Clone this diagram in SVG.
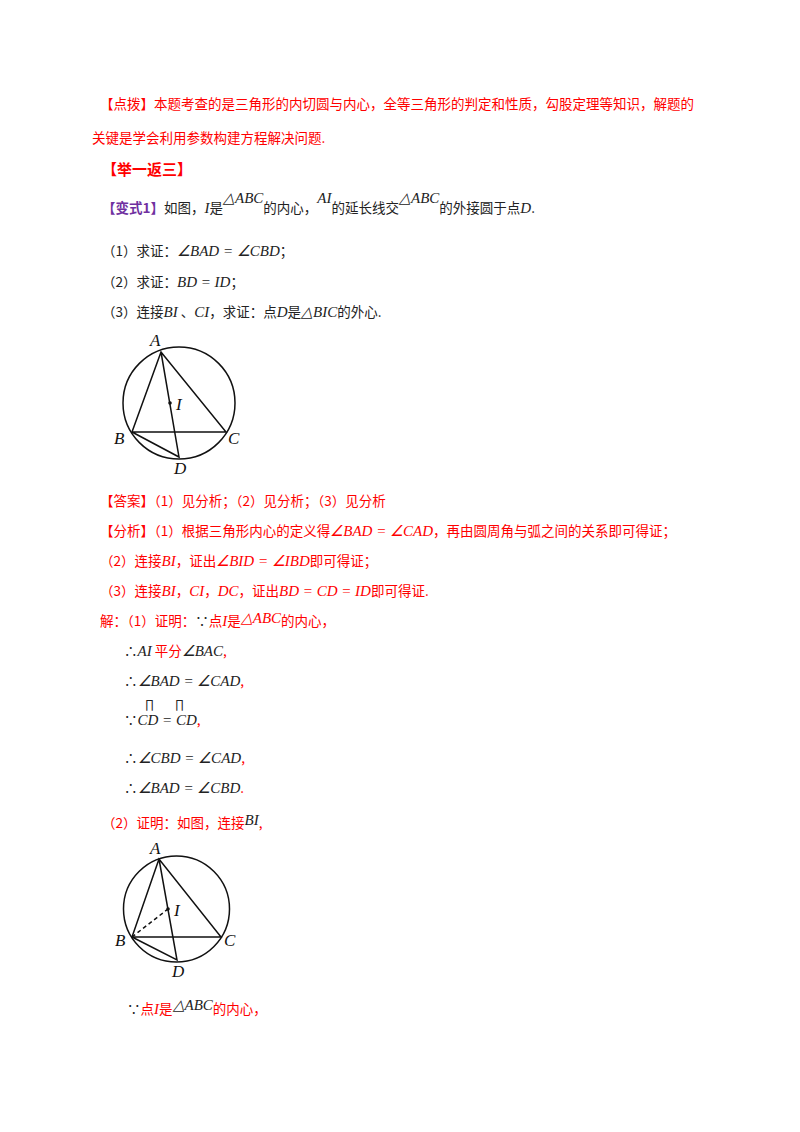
<svg xmlns="http://www.w3.org/2000/svg" width="800" height="1132" viewBox="0 0 800 1132">
<style>
text{font-family:"Noto Sans CJK SC",sans-serif;font-size:13.5px;fill:#222}
.r{fill:#ff0000}
.p{fill:#7030a0;font-weight:bold}
.m{font-family:"Liberation Serif",serif;font-style:italic;font-size:15px}
.mk{fill:#222}
.lbl{font-family:"Liberation Serif",serif;font-style:italic;font-size:17px;fill:#111}
.g{fill:none;stroke:#111;stroke-width:1.5}
</style>
<rect width="800" height="1132" fill="#fff"/>
<text x="100" y="109" class="r">【点拨】本题考查的是三角形的内切圆与内心，全等三角形的判定和性质，勾股定理等知识，解题的</text>
<text x="92" y="143" class="r">关键是学会利用参数构建方程解决问题.</text>
<text x="102" y="175" class="r" style="font-weight:bold;font-size:15px">【举一返三】</text>
<text x="102" y="213"><tspan class="p">【变式1】</tspan>如图，<tspan class="m">I</tspan>是<tspan class="m" dy="-10">△ABC</tspan><tspan dy="10">的内心，</tspan><tspan class="m" dy="-10">AI</tspan><tspan dy="10">的延长线交</tspan><tspan class="m" dy="-10">△ABC</tspan><tspan dy="10">的外接圆于点</tspan><tspan class="m">D</tspan>.</text>
<text x="102" y="256">（1）求证：<tspan class="m">∠BAD = ∠CBD</tspan>；</text>
<text x="102" y="287">（2）求证：<tspan class="m">BD = ID</tspan>；</text>
<text x="102" y="317">（3）连接<tspan class="m">BI</tspan> 、<tspan class="m">CI</tspan>，求证：点<tspan class="m">D</tspan>是<tspan class="m">△BIC</tspan>的外心.</text>
<g id="fig1">
<circle cx="179" cy="403" r="56" class="g"/>
<path d="M161 352 L132 432 L226 432 Z M161 352 L179 457 L132 432" class="g"/>
<circle cx="170" cy="403" r="1.8" fill="#111"/>
<text x="150" y="346" class="lbl">A</text><text x="176" y="410" class="lbl">I</text>
<text x="114" y="444" class="lbl">B</text><text x="228" y="444" class="lbl">C</text><text x="174" y="474" class="lbl">D</text>
</g>
<text x="100" y="506" class="r">【答案】（1）见分析；（2）见分析；（3）见分析</text>
<text x="100" y="536" class="r">【分析】（1）根据三角形内心的定义得<tspan class="m r">∠BAD = ∠CAD</tspan>，再由圆周角与弧之间的关系即可得证；</text>
<text x="100" y="566" class="r">（2）连接<tspan class="m">BI</tspan>，证出<tspan class="m">∠BID = ∠IBD</tspan>即可得证；</text>
<text x="100" y="596" class="r">（3）连接<tspan class="m">BI</tspan>，<tspan class="m">CI</tspan>，<tspan class="m">DC</tspan>，证出<tspan class="m">BD = CD = ID</tspan>即可得证.</text>
<text x="100" y="626" class="r">解：（1）证明：<tspan class="mk">∵</tspan>点<tspan class="m">I</tspan>是<tspan class="m" dy="-3">△ABC</tspan><tspan dy="3">的内心，</tspan></text>
<text x="124" y="656" class="r"><tspan class="mk">∴</tspan><tspan class="m mk">AI</tspan> 平分<tspan class="m mk">∠BAC</tspan>,</text>
<text x="124" y="686" class="r"><tspan class="mk">∴</tspan><tspan class="m mk">∠BAD = ∠CAD</tspan>,</text>
<text x="144" y="709" style="font-size:11px">∏</text><text x="174" y="709" style="font-size:11px">∏</text>
<text x="124" y="725" class="r"><tspan class="mk">∵</tspan><tspan class="m mk">CD = CD</tspan>,</text>
<text x="124" y="763" class="r"><tspan class="mk">∴</tspan><tspan class="m mk">∠CBD = ∠CAD</tspan>,</text>
<text x="124" y="793" class="r"><tspan class="mk">∴</tspan><tspan class="m mk">∠BAD = ∠CBD</tspan>.</text>
<text x="102" y="828" class="r">（2）证明：如图，连接<tspan class="m mk" dy="-3">BI</tspan><tspan dy="3">,</tspan></text>
<g id="fig2">
<circle cx="176.5" cy="909" r="53" class="g"/>
<path d="M159 859 L132 937 L221 937 Z M159 859 L177 960 L132 937" class="g"/>
<path d="M132 937 L168 909" class="g" stroke-dasharray="4,3"/>
<circle cx="168" cy="909" r="1.8" fill="#111"/>
<text x="150" y="854" class="lbl">A</text><text x="174" y="916" class="lbl">I</text>
<text x="115" y="946" class="lbl">B</text><text x="224" y="946" class="lbl">C</text><text x="172" y="977" class="lbl">D</text>
</g>
<text x="127" y="1014" class="r"><tspan class="mk">∵</tspan>点<tspan class="m">I</tspan>是<tspan class="m mk" dy="-4">△ABC</tspan><tspan dy="4">的内心，</tspan></text>
</svg>
